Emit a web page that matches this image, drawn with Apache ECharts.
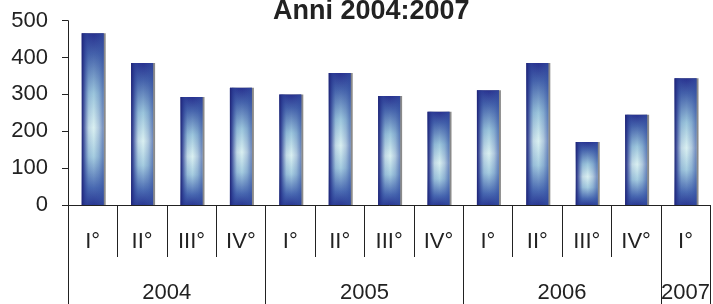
<!DOCTYPE html>
<html><head><meta charset="utf-8">
<script src="https://cdn.jsdelivr.net/npm/echarts@6/dist/echarts.min.js"></script>
<style>html,body{margin:0;padding:0;background:#fff}#c{width:713px;height:304px}</style>
</head><body><div id="c"></div>
<script>
const titleText = 'Anni 2004:2007';
const quarters = ['I°','II°','III°','IV°','I°','II°','III°','IV°','I°','II°','III°','IV°','I°'];
const values = [466,385,293,318,300,358,296,253,311,385,171,245,344];
const years = ['2004','2005','2006','2007'];
const yearSpans = [4,4,4,1];
const yTicks = [0,100,200,300,400,500];

// half-quarter positions for the year level (boundaryGap false)
const halves = [];
const yearLabelIdx = [];
const yearTickIdx = [0];
years.forEach((y, i) => {
  const n = yearSpans[i] * 2;
  const start = halves.length;
  for (let k = 0; k < n; k++) halves.push('');
  yearLabelIdx.push(start + n / 2);
  yearTickIdx.push(start + n);
});
halves.push('');
yearLabelIdx.forEach((idx, i) => { halves[idx] = years[i]; });

const font = 'Liberation Sans, Arial, sans-serif';
const ink = '#222';
const chart = echarts.init(document.getElementById('c'), null, {renderer: 'canvas'});
const vGrad = new echarts.graphic.LinearGradient(0, 0, 0, 1, [
  {offset: 0, color: '#28318f'},
  {offset: 0.12, color: '#4562ab'},
  {offset: 0.35, color: '#9cc6dc'},
  {offset: 0.55, color: '#daf0f1'},
  {offset: 0.72, color: '#a6cde0'},
  {offset: 0.9, color: '#4a6ab2'},
  {offset: 1, color: '#2a3893'}
]);
const hGrad = new echarts.graphic.LinearGradient(0, 0, 1, 0, [
  {offset: 0, color: 'rgba(30,34,115,1)'},
  {offset: 0.1, color: 'rgba(38,52,140,0.8)'},
  {offset: 0.32, color: 'rgba(55,85,165,0.15)'},
  {offset: 0.55, color: 'rgba(55,85,165,0)'},
  {offset: 0.78, color: 'rgba(55,85,165,0.25)'},
  {offset: 1, color: 'rgba(50,78,160,0.65)'}
]);
chart.setOption({
  animation: false,
  title: {
    text: titleText, left: 273, top: -2, padding: 0,
    textStyle: {fontFamily: font, fontSize: 27, fontWeight: 'bold', color: ink}
  },
  grid: {left: 68, right: -1, top: 20.7, bottom: 98.3},
  xAxis: [{
    type: 'category', data: quarters, position: 'bottom',
    axisLine: {show: true, lineStyle: {color: ink, width: 1}},
    axisTick: {show: true, interval: 0, length: 52, lineStyle: {color: ink}},
    axisLabel: {interval: 0, margin: 26, fontFamily: font, fontSize: 22, color: ink}
  }, {
    type: 'category', data: halves, boundaryGap: false, position: 'bottom',
    axisLine: {show: false},
    axisTick: {show: true, length: 99, lineStyle: {color: ink},
      interval: (i) => yearTickIdx.indexOf(i) >= 0},
    axisLabel: {margin: 77, fontFamily: font, fontSize: 22, color: ink,
      interval: (i) => yearLabelIdx.indexOf(i) >= 0}
  }],
  yAxis: {
    type: 'value', min: yTicks[0], max: yTicks[yTicks.length - 1], interval: 100,
    splitLine: {show: false},
    axisLine: {show: true, lineStyle: {color: ink}},
    axisTick: {show: true, length: 6, lineStyle: {color: ink}},
    axisLabel: {margin: 20, fontFamily: font, fontSize: 22, color: ink}
  },
  series: [{
    type: 'bar', data: values, barWidth: 22, xAxisIndex: 0,
    itemStyle: {color: vGrad, shadowColor: '#8a8a8a', shadowOffsetX: 2, shadowOffsetY: 0, shadowBlur: 0}
  }, {
    type: 'bar', data: values, barWidth: 22, barGap: '-100%', xAxisIndex: 0,
    itemStyle: {color: hGrad}
  }]
});
</script></body></html>
